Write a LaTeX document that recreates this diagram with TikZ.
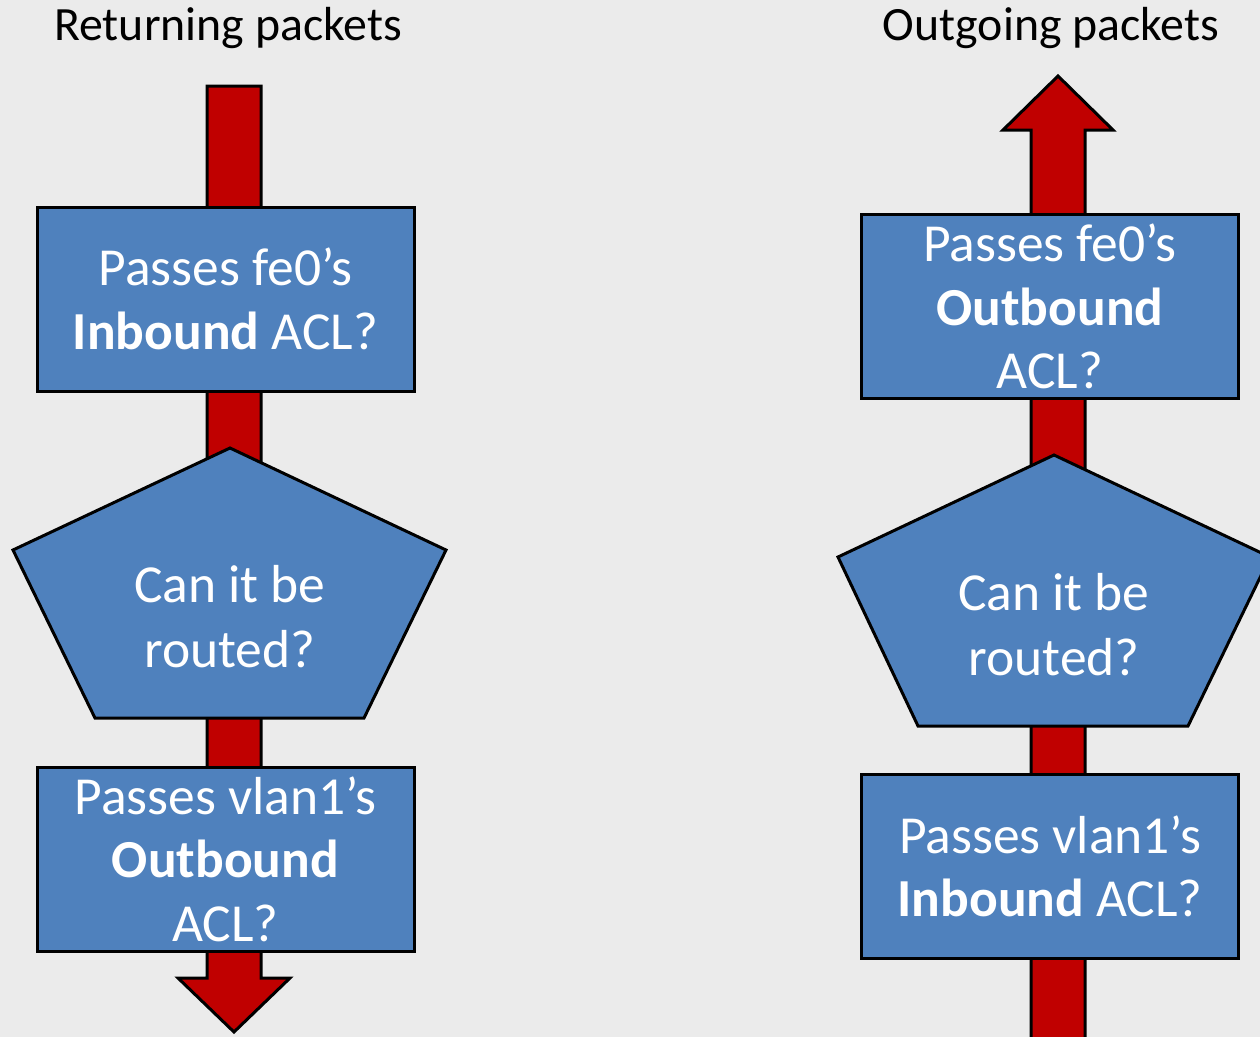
\documentclass[tikz,border=0pt]{standalone}
\usepackage{fontspec}
\setmainfont{Carlito}
\definecolor{bgc}{HTML}{EBEBEB}
\definecolor{boxblue}{HTML}{4F81BD}
\definecolor{arrowred}{HTML}{C00000}
\begin{document}
\begin{tikzpicture}[x=1pt,y=-1pt,
  box/.style={draw=black, line width=3pt, fill=boxblue, minimum width=377pt, minimum height=184pt,
    text=white, align=center, inner sep=0pt, font=\fontsize{53.5}{63.5}\selectfont},
  ptext/.style={text=white, align=center, inner sep=0pt, font=\fontsize{53.5}{65}\selectfont},
  pent/.style={draw=black, line width=3pt, fill=boxblue, line join=miter},
  bigarrow/.style={draw=black, line width=3pt, fill=arrowred, line join=miter},
  title/.style={text=black, inner sep=0pt, font=\fontsize{47.8}{56}\selectfont}]
\useasboundingbox (0,0) rectangle (1260,1036);
\clip (0,0) rectangle (1260,1036);
\fill[bgc] (-10,-10) rectangle (1270,1046);

% titles
\node[title] (t1) at (228,28) {Returning packets};
\node[title] (t2) at (1051,28) {Outgoing packets};

% block arrows
\draw[bigarrow] (207,86) -- (261,86) -- (261,978) -- (290,978) -- (234,1032) -- (178,978) -- (207,978) -- cycle;
\draw[bigarrow] (1058,76) -- (1113,130) -- (1085,130) -- (1085,1050) -- (1031,1050) -- (1031,130) -- (1003,130) -- cycle;

% left column
\node[box] (l1) at (225.5,299) {Passes fe0’s\\\textbf{Inbound} ACL?};
\coordinate (lp1) at (230,448);
\coordinate (lp2) at (446,550);
\coordinate (lp3) at (364,718);
\coordinate (lp4) at (95,718);
\coordinate (lp5) at (13,550);
\draw[pent] (lp1) -- (lp2) -- (lp3) -- (lp4) -- (lp5) -- cycle;
\node[ptext] (lpt) at (230,617) {Can it be\\routed?};
\node[box] (l2) at (225.5,859) {Passes vlan1’s\\\textbf{Outbound}\\ACL?};

% right column
\node[box] (r1) at (1050,306.5) {Passes fe0’s\\\textbf{Outbound}\\ACL?};
\coordinate (rp1) at (1054,455);
\coordinate (rp2) at (1270,557);
\coordinate (rp3) at (1188,726);
\coordinate (rp4) at (918,726);
\coordinate (rp5) at (838,557);
\draw[pent] (rp1) -- (rp2) -- (rp3) -- (rp4) -- (rp5) -- cycle;
\node[ptext] (rpt) at (1054,625) {Can it be\\routed?};
\node[box] (r2) at (1050,866.5) {Passes vlan1’s\\\textbf{Inbound} ACL?};
\end{tikzpicture}
\end{document}
